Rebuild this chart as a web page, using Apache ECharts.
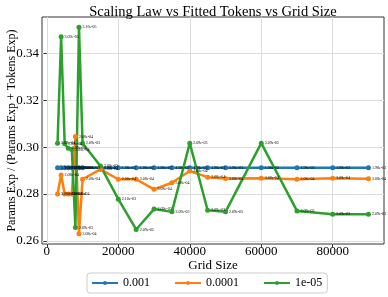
<!DOCTYPE html>
<html>
<head>
<meta charset="utf-8">
<script src="https://cdn.jsdelivr.net/npm/echarts@6/dist/echarts.min.js"></script>
<style>html,body{margin:0;padding:0;background:#fff;}#c{width:388px;height:297px;}</style>
</head>
<body>
<div id="c"></div>
<script>
const gridSizes = [3000, 4000, 5000, 6000, 7000, 8000, 9000, 10000, 15000, 20000, 25000, 30000, 35000, 40000, 45000, 50000, 60000, 70000, 80000, 90000];
const seriesNames = ['0.001', '0.0001', '1e-05'];
const ratio001 = [0.2912, 0.2912, 0.2912, 0.2912, 0.2912, 0.2912, 0.2912, 0.2912, 0.2912, 0.2912, 0.2912, 0.2912, 0.2912, 0.2912, 0.2912, 0.2912, 0.2912, 0.2912, 0.2912, 0.2912];
const ratio0001 = [0.2800, 0.2881, 0.2800, 0.2800, 0.2800, 0.3045, 0.2631, 0.2863, 0.2905, 0.2863, 0.2863, 0.2820, 0.2848, 0.2898, 0.2872, 0.2866, 0.2867, 0.2863, 0.2867, 0.2865];
const ratio00001 = [0.3017, 0.3471, 0.3014, 0.2995, 0.2990, 0.2657, 0.3511, 0.3017, 0.2920, 0.2778, 0.2649, 0.2736, 0.2724, 0.3017, 0.2731, 0.2724, 0.3017, 0.2728, 0.2714, 0.2714];
const labels001 = ['1.98e-03','1.98e-03','1.98e-03','1.98e-03','1.98e-03','1.98e-03','1.98e-03','1.98e-03','1.98e-03','1.98e-03','1.98e-03','1.98e-03','1.98e-03','1.98e-03','1.98e-03','1.98e-03','1.98e-03','1.98e-03','1.98e-03','1.98e-03'];
const labels0001 = ['3.08e-04','2.08e-04','3.08e-04','3.08e-04','3.08e-04','2.08e-04','3.08e-04','2.08e-04','2.08e-04','2.08e-04','3.08e-04','3.08e-04','3.08e-04','2.08e-04','2.08e-04','3.08e-04','3.08e-04','2.08e-04','3.08e-04','3.08e-04'];
const labels00001 = ['2.09e-04','3.09e-05','2.09e-04','2.09e-04','2.09e-04','2.09e-03','3.16e-05','2.09e-03','2.08e-03','2.10e-03','2.09e-05','2.09e-03','2.09e-03','2.09e-03','2.09e-03','2.09e-03','3.09e-05','2.09e-03','2.09e-03','2.09e-03'];
const xTicks = [0, 20000, 40000, 60000, 80000];
const yTicks = [0.26, 0.28, 0.30, 0.32, 0.34];
const colors = ['#1f77b4', '#ff7f0e', '#2ca02c'];

const FONT = 'Liberation Serif';
function mk(name, vals, labs, color) {
  return {
    name: name, type: 'line', color: color,
    data: gridSizes.map((g, i) => [g, vals[i]]),
    symbol: 'circle', symbolSize: 5,
    lineStyle: { width: 2.5, color: color },
    itemStyle: { color: color },
    label: {
      show: true, position: 'right', distance: 1, offset: [0, -3],
      fontSize: 4, fontFamily: FONT, color: '#000',
      formatter: p => labs[p.dataIndex]
    },
    labelLayout: { hideOverlap: false },
    emphasis: { disabled: true },
    animation: false
  };
}
const chart = echarts.init(document.getElementById('c'), null, { renderer: 'canvas' });
chart.setOption({
  animation: false,
  backgroundColor: '#fff',
  title: {
    text: 'Scaling Law vs Fitted Tokens vs Grid Size',
    left: 208, textAlign: 'center', top: 0,
    textStyle: { fontFamily: FONT, fontSize: 14.5, fontWeight: 'normal', color: '#000' }
  },
  legend: {
    data: seriesNames, bottom: 4, left: 87,
    padding: [4, 5, 4, 4], itemGap: 24, itemWidth: 26, itemHeight: 5,
    borderColor: '#ccc', borderWidth: 1, borderRadius: 3, backgroundColor: '#fff',
    textStyle: { fontFamily: FONT, fontSize: 12, color: '#000' }
  },
  grid: { left: 42, right: 4, top: 17, bottom: 53, show: true, borderColor: '#333', borderWidth: 1,
    containLabel: false, outerBoundsMode: 'none' },
  xAxis: {
    type: 'value', min: -1350, max: 94350,
    name: 'Grid Size', nameLocation: 'middle', nameGap: 15, nameMoveOverlap: false,
    nameTextStyle: { fontFamily: FONT, fontSize: 13, color: '#000' },
    axisLine: { show: false },
    axisTick: { show: true, length: 3.5, customValues: xTicks, lineStyle: { color: '#333' } },
    axisLabel: { customValues: xTicks, fontFamily: FONT, fontSize: 13, color: '#000', margin: 1,
      formatter: v => String(Math.round(v)) },
    splitLine: { show: true, lineStyle: { color: '#dcdcdc', width: 1 } }
  },
  yAxis: {
    type: 'value', min: 0.2587, max: 0.3555,
    name: 'Params Exp / (Params Exp + Tokens Exp)', nameLocation: 'middle', nameGap: 24, nameMoveOverlap: false,
    nameTextStyle: { fontFamily: FONT, fontSize: 12, color: '#000' },
    axisLine: { show: false },
    axisTick: { show: true, length: 3.5, customValues: yTicks, lineStyle: { color: '#333' } },
    axisLabel: { customValues: yTicks, fontFamily: FONT, fontSize: 13, color: '#000', margin: 3,
      formatter: v => v.toFixed(2) },
    splitLine: { show: true, lineStyle: { color: '#dcdcdc', width: 1 } }
  },
  series: [
    mk(seriesNames[0], ratio001, labels001, colors[0]),
    mk(seriesNames[1], ratio0001, labels0001, colors[1]),
    mk(seriesNames[2], ratio00001, labels00001, colors[2])
  ]
});
</script>
</body>
</html>
